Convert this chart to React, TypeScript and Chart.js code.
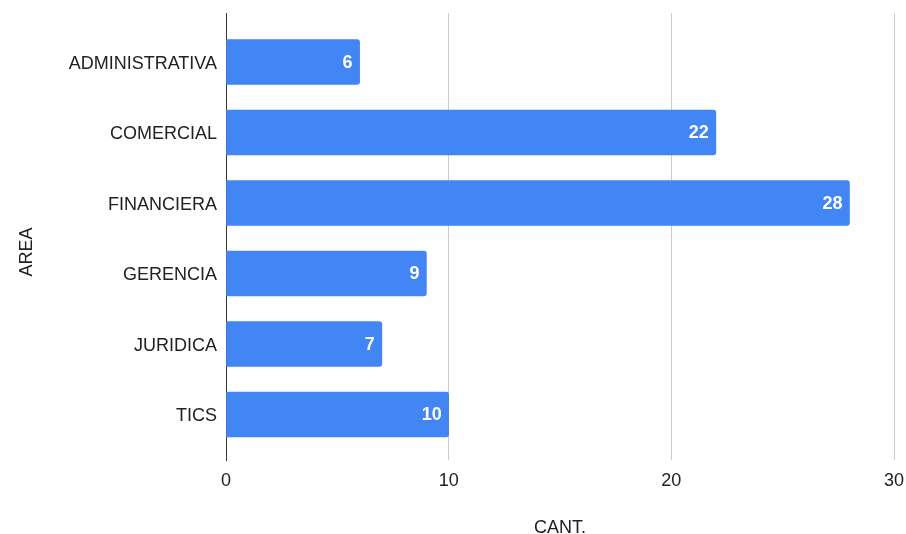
import React, { useEffect, useRef } from "react";
import { Chart, registerables } from "chart.js";

Chart.register(...registerables);

const categories = ["ADMINISTRATIVA", "COMERCIAL", "FINANCIERA", "GERENCIA", "JURIDICA", "TICS"];
const values = [6, 22, 28, 9, 7, 10];
const xTicks = [0, 10, 20, 30];
const xTitle = "CANT.";
const yTitle = "AREA";

const FONT = "'Liberation Sans', Arial, sans-serif";
const TEXT = "#222222";

const tickLabels = {
  id: "tickLabels",
  afterDraw(chart: any) {
    const ctx = chart.ctx;
    const y = chart.scales.y;
    const x = chart.scales.x;
    const a = chart.chartArea;
    ctx.save();
    ctx.fillStyle = TEXT;
    ctx.font = `18px ${FONT}`;
    ctx.textBaseline = "alphabetic";
    ctx.textAlign = "right";
    categories.forEach((c, i) => {
      ctx.fillText(c, a.left - 9, y.getPixelForValue(i) + 6.5);
    });
    ctx.textAlign = "center";
    xTicks.forEach((v) => {
      ctx.fillText(String(v), x.getPixelForValue(v), a.bottom + 25.5);
    });
    ctx.restore();
  },
};

const valueLabels = {
  id: "valueLabels",
  afterDatasetsDraw(chart: any) {
    const ctx = chart.ctx;
    const meta = chart.getDatasetMeta(0);
    ctx.save();
    ctx.fillStyle = "#ffffff";
    ctx.font = `bold 18px ${FONT}`;
    ctx.textAlign = "right";
    ctx.textBaseline = "alphabetic";
    meta.data.forEach((bar: any, i: number) => {
      ctx.fillText(String(values[i]), bar.x - 7, bar.y + 5.5);
    });
    ctx.restore();
  },
};

const axisTitles = {
  id: "axisTitles",
  afterDraw(chart: any) {
    const ctx = chart.ctx;
    const a = chart.chartArea;
    ctx.save();
    ctx.fillStyle = TEXT;
    ctx.font = `18px ${FONT}`;
    ctx.textAlign = "center";
    ctx.textBaseline = "alphabetic";
    ctx.fillText(xTitle, (a.left + a.right) / 2, 533);
    ctx.translate(32, 252);
    ctx.rotate(-Math.PI / 2);
    ctx.fillText(yTitle, 0, 0);
    ctx.restore();
  },
};

export default function App() {
  const ref = useRef<HTMLCanvasElement>(null);
  useEffect(() => {
    document.body.style.margin = "0";
    const chart = new Chart(ref.current!, {
      type: "bar",
      data: {
        datasets: [
          {
            data: values.map((v, i) => ({ x: v, y: i })),
            backgroundColor: "#4285F4",
            borderRadius: 3,
            borderSkipped: "start",
            barThickness: 45,
          },
        ],
      },
      options: {
        indexAxis: "y",
        animation: false,
        responsive: false,
        layout: { padding: { top: 13, right: 12, left: 0, bottom: 0 } },
        plugins: { legend: { display: false }, tooltip: { enabled: false } },
        scales: {
          x: {
            type: "linear",
            min: 0,
            max: 30,
            bounds: "data",
            offset: false,
            afterBuildTicks: (s: any) => {
              s.ticks = xTicks.map((v) => ({ value: v }));
            },
            afterFit: (s: any) => {
              s.height = 74;
            },
            grid: {
              offset: false,
              color: (c: any) => (c.tick && c.tick.value === 0 ? "rgba(0,0,0,0)" : "#cccccc"),
              drawTicks: false,
              lineWidth: 1,
            },
            border: { display: false },
            ticks: { display: false },
          },
          y: {
            type: "linear",
            reverse: true,
            bounds: "data",
            offset: false,
            min: -0.695,
            max: 5.645,
            afterBuildTicks: (s: any) => {
              s.ticks = categories.map((_, i) => ({ value: i }));
            },
            afterFit: (s: any) => {
              s.width = 226;
            },
            grid: { display: true, offset: false, color: "rgba(0,0,0,0)", drawTicks: false },
            border: { display: true, color: "#333333", width: 1 },
            ticks: { display: false },
          },
        },
      },
      plugins: [valueLabels, tickLabels, axisTitles],
    } as any);
    return () => chart.destroy();
  }, []);
  return (
    <div style={{ width: 906, height: 534 }}>
      <canvas ref={ref} width={906} height={534} />
    </div>
  );
}
